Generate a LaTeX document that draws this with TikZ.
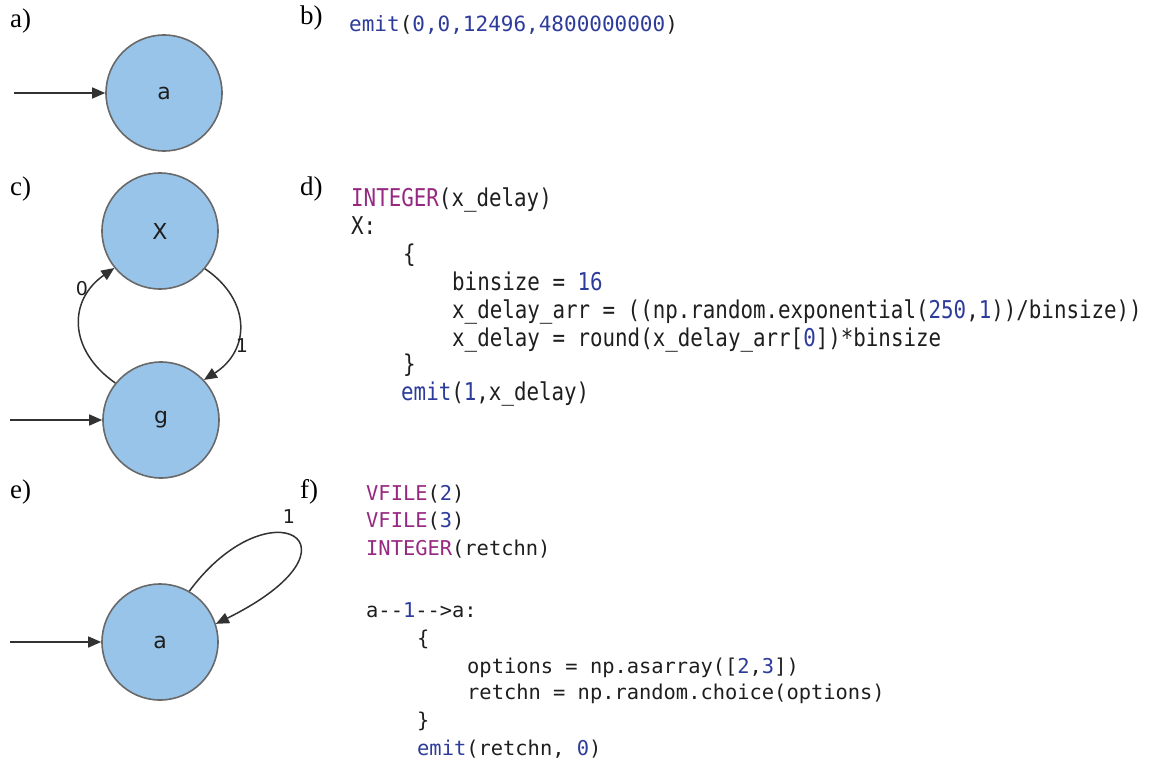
\documentclass[tikz,border=0pt]{standalone}
\usepackage{fontspec}
\setmainfont{Liberation Serif}
\newfontfamily\codefont{DejaVu Sans Mono}
\newfontfamily\codenarrow[FakeStretch=0.85]{DejaVu Sans Mono}
\newfontfamily\statefont{DejaVu Sans}
\usetikzlibrary{arrows.meta}
\definecolor{kwpurple}{RGB}{150,40,130}
\definecolor{numblue}{RGB}{45,60,155}
\definecolor{statefill}{RGB}{151,196,232}
\definecolor{stateborder}{RGB}{105,105,105}
\definecolor{edgecol}{RGB}{50,50,50}
\definecolor{codetext}{RGB}{30,30,30}
\newcommand{\kw}[1]{\textcolor{kwpurple}{#1}}
\newcommand{\nm}[1]{\textcolor{numblue}{#1}}
\newcommand{\us}{\char"005F\relax}
\begin{document}
\begin{tikzpicture}[x=1pt,y=-1pt,
  state/.style={circle, fill=statefill, draw=stateborder, line width=1.6pt,
    minimum size=116pt, inner sep=0pt, text=codetext,
    font=\statefont\fontsize{22}{22}\selectfont},
  edge/.style={draw=edgecol, line width=1.5pt, -{Triangle[length=13pt,width=11pt]}},
  panellabel/.style={anchor=base west, inner sep=0pt, font=\fontsize{27}{27}\selectfont},
  codeb/.style={anchor=base west, inner sep=0pt, text=codetext, font=\codefont\fontsize{21}{21}\selectfont},
  coded/.style={anchor=base west, inner sep=0pt, text=codetext, font=\codenarrow\fontsize{24.5}{24.5}\selectfont},
  codef/.style={anchor=base west, inner sep=0pt, text=codetext, font=\codefont\fontsize{20.4}{20.4}\selectfont},
  elabel/.style={inner sep=0pt, text=codetext, font=\statefont\fontsize{19}{19}\selectfont}
]
\useasboundingbox (0,0) rectangle (1153,765);

% panel labels
\node[panellabel] (la) at (10,28) {a)};
\node[panellabel] (lb) at (300,25) {b)};
\node[panellabel] (lc) at (10,195) {c)};
\node[panellabel] (ld) at (300,195) {d)};
\node[panellabel] (le) at (10,498) {e)};
\node[panellabel] (lf) at (300,498) {f)};

% a)
\node[state] (na) at (164,93) {a};
\coordinate (ain) at (14,93);
\draw[edge] (ain) -- (na);

% b)
\node[codeb] (bcode) at (349,32) {\nm{emit}(\nm{0,0,12496,4800000000})};

% c)
\node[state] (nx) at (160,231) {X};
\node[state] (ng) at (161,420) {g};
\coordinate (gin) at (10,420);
\draw[edge] (gin) -- (ng);
\draw[edge] (ng.141) .. controls (68,350) and (68,300) .. (nx.219);
\draw[edge] (nx.320) .. controls (251,300) and (251,350) .. (ng.43);
\node[elabel] (l0) at (82,289) {0};
\node[elabel] (l1) at (242,346) {1};

% d)
\node[coded] (d1) at (351,206) {\kw{INTEGER}(x\us delay)};
\node[coded] (d2) at (351,234) {X:};
\node[coded] (d3) at (403,262) {\{};
\node[coded] (d4) at (452,290) {binsize = \nm{16}};
\node[coded] (d5) at (452,318) {x\us delay\us arr = ((np.random.exponential(\nm{250},\nm{1}))/binsize))};
\node[coded] (d6) at (452,346) {x\us delay = round(x\us delay\us arr[\nm{0}])*binsize};
\node[coded] (d7) at (403,372) {\}};
\node[coded] (d8) at (401,400) {\nm{emit}(\nm{1},x\us delay)};

% e)
\node[state] (ea) at (160,642) {a};
\coordinate (ein) at (10,642);
\draw[edge] (ein) -- (ea);
\draw[edge] (ea.60) .. controls (270,482) and (375,545) .. (ea.18);
\node[elabel] (l2) at (289,517) {1};

% f)
\node[codef] (f1) at (366,500) {\kw{VFILE}(\nm{2})};
\node[codef] (f2) at (366,527) {\kw{VFILE}(\nm{3})};
\node[codef] (f3) at (366,555) {\kw{INTEGER}(retchn)};
\node[codef] (f4) at (366,617) {a-{}-\nm{1}-{}->a:};
\node[codef] (f5) at (417,645) {\{};
\node[codef] (f6) at (467,673) {options = np.asarray([\nm{2},\nm{3}])};
\node[codef] (f7) at (467,699) {retchn = np.random.choice(options)};
\node[codef] (f8) at (417,727) {\}};
\node[codef] (f9) at (417,755) {\nm{emit}(retchn, \nm{0})};
\end{tikzpicture}
\end{document}
